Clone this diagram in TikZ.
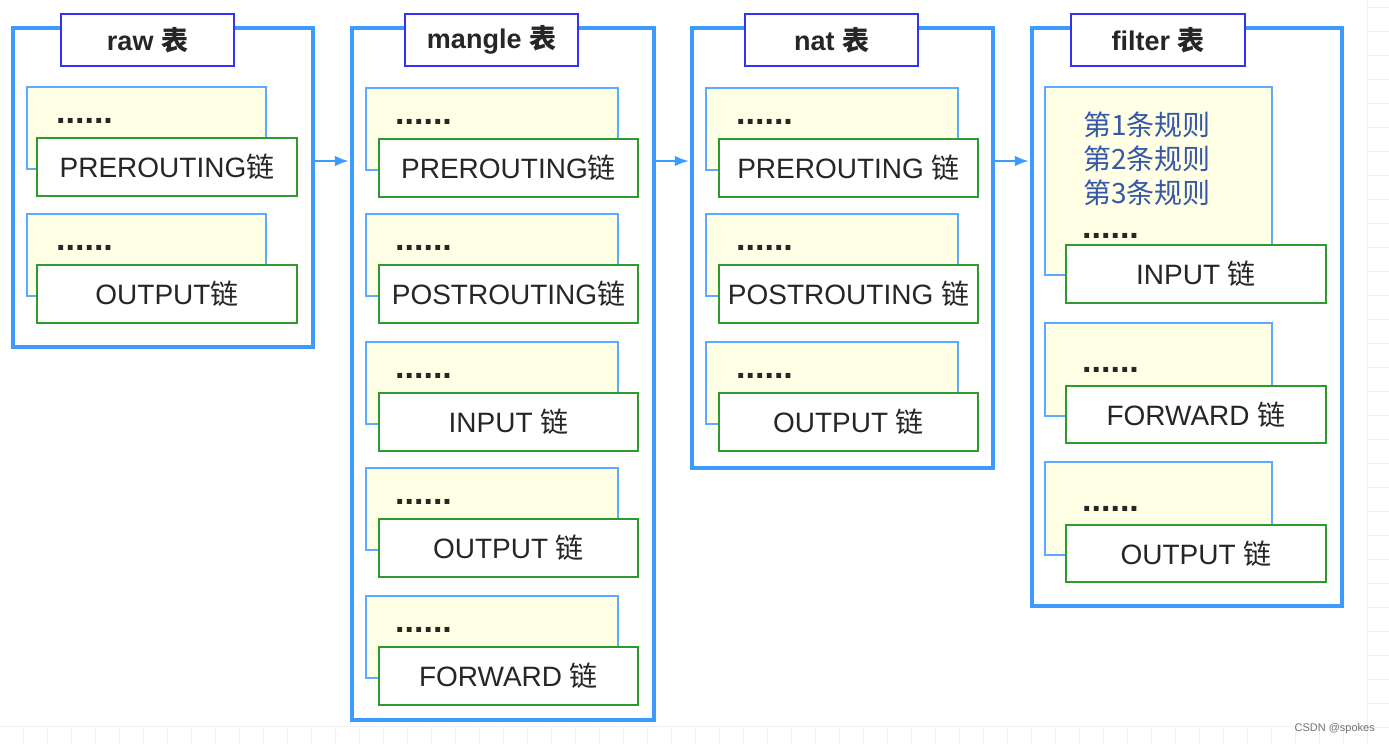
\documentclass[tikz,border=0pt]{standalone}
\usepackage{fontspec}
\setmainfont{Liberation Sans}
\newfontfamily\cjk{Noto Sans CJK SC}
\usetikzlibrary{arrows.meta,positioning}
\definecolor{TblBlue}{HTML}{3D9BFF}
\definecolor{HeadBlue}{HTML}{3232F5}
\definecolor{ChainGreen}{HTML}{2E9A2E}
\definecolor{RuleFill}{HTML}{FFFFE6}
\definecolor{RuleText}{HTML}{3558A8}
\definecolor{GridGray}{HTML}{F0F0F0}

\begin{document}
\begin{tikzpicture}[x=1pt,y=-1pt,>=Latex,
  tblbox/.style={draw=TblBlue,line width=3.5pt,fill=white,anchor=north west,inner sep=0pt,outer sep=0pt},
  headbox/.style={draw=HeadBlue,line width=2.8pt,fill=white,minimum width=173pt,minimum height=52pt,
    inner sep=0pt,outer sep=0pt,font=\fontsize{27}{30}\selectfont\bfseries,text=black!85},
  rulebox/.style={draw=TblBlue!85,line width=2.5pt,fill=RuleFill,anchor=north west,inner sep=0pt,outer sep=0pt},
  chainbox/.style={draw=ChainGreen,line width=2.8pt,fill=white,anchor=north west,minimum width=260pt,
    minimum height=58pt,inner sep=0pt,outer sep=0pt,font=\fontsize{28}{30}\selectfont,text=black!85},
  dots/.style={anchor=west,inner sep=0pt,font=\fontsize{34}{34}\selectfont\bfseries,text=black!85},
  ruletext/.style={anchor=west,inner sep=0pt,font=\cjk\fontsize{28}{30}\selectfont,text=RuleText},
  link/.style={->,draw=TblBlue,line width=2.5pt,shorten >=3pt}]
  \useasboundingbox (0,0) rectangle (1389,744);
  \fill[white] (0,0) rectangle (1389,744);
  % faint page grid at the bottom and right edges
  \draw[GridGray,line width=0.8pt] (0,726) -- (1367,726) (1367,0) -- (1367,744);
  \foreach \k in {0,...,56}{
    \draw[GridGray,line width=0.8pt] (1367-24*\k,726) -- (1367-24*\k,744);
  }
  \foreach \k in {0,...,30}{
    \draw[GridGray,line width=0.8pt] (1367,7+24*\k) -- (1389,7+24*\k);
  }

  % raw
  \node[tblbox,minimum width=300pt,minimum height=319pt] (raw) at (13,28) {};
  \node[headbox] (rawhd) at (147.5,40) {raw {\cjk 表}};
  \foreach \i/\y/\lbl in {1/87/PREROUTING{\cjk 链},2/214/OUTPUT{\cjk 链}}{
    \node[rulebox,minimum width=239pt,minimum height=82pt] (raw-r\i) at (27,\y) {};
    \node[dots] (raw-d\i) at (56,\y+34) {......};
    \node[chainbox] (raw-c\i) at (37,\y+51) {\lbl};
  }

  % mangle
  \node[tblbox,minimum width=302pt,minimum height=692pt] (mangle) at (352,28) {};
  \node[headbox] (manglehd) at (491.5,40) {mangle {\cjk 表}};
  \foreach \i/\y/\lbl in {1/88/PREROUTING{\cjk 链},2/214/POSTROUTING{\cjk 链},3/342/INPUT {\cjk 链},
    4/468/OUTPUT {\cjk 链},5/596/FORWARD {\cjk 链}}{
    \node[rulebox,minimum width=252pt,minimum height=82pt] (mangle-r\i) at (366,\y) {};
    \node[dots] (mangle-d\i) at (395,\y+34) {......};
    \node[chainbox,minimum width=259pt] (mangle-c\i) at (379,\y+51) {\lbl};
  }

  % nat
  \node[tblbox,minimum width=301pt,minimum height=440pt] (nat) at (692,28) {};
  \node[headbox] (nathd) at (831.5,40) {nat {\cjk 表}};
  \foreach \i/\y/\lbl in {1/88/PREROUTING {\cjk 链},2/214/POSTROUTING {\cjk 链},3/342/OUTPUT {\cjk 链}}{
    \node[rulebox,minimum width=252pt,minimum height=82pt] (nat-r\i) at (706,\y) {};
    \node[dots] (nat-d\i) at (736,\y+34) {......};
    \node[chainbox,minimum width=259pt] (nat-c\i) at (719,\y+51) {\lbl};
  }

  % filter
  \node[tblbox,minimum width=310pt,minimum height=578pt] (filter) at (1032,28) {};
  \node[headbox,minimum width=174pt] (filterhd) at (1158,40) {filter {\cjk 表}};
  \node[rulebox,minimum width=227pt,minimum height=188pt] (filter-r1) at (1045,87) {};
  \foreach \j/\y in {1/125,2/159,3/193}{
    \node[ruletext] (filter-t\j) at (1083,\y) {第\j 条规则};
  }
  \node[dots] (filter-d1) at (1082,236) {......};
  \node[chainbox] (filter-c1) at (1066,245) {INPUT {\cjk 链}};
  \foreach \i/\y/\lbl in {2/323/FORWARD {\cjk 链},3/462/OUTPUT {\cjk 链}}{
    \node[rulebox,minimum width=227pt,minimum height=93pt] (filter-r\i) at (1045,\y) {};
    \node[dots] (filter-d\i) at (1082,\y+47) {......};
    \node[chainbox,minimum height=57pt] (filter-c\i) at (1066,\y+63) {\lbl};
  }

  \draw[link] ([yshift=-133pt]raw.north east) -- ([yshift=-133pt]mangle.north west);
  \draw[link] ([yshift=-133pt]mangle.north east) -- ([yshift=-133pt]nat.north west);
  \draw[link] ([yshift=-133pt]nat.north east) -- ([yshift=-133pt]filter.north west);

  \node[anchor=east,inner sep=0pt,font=\fontsize{11}{11}\selectfont,text=black!55] (mark) at (1375,729) {CSDN @spokes};
\end{tikzpicture}
\end{document}
